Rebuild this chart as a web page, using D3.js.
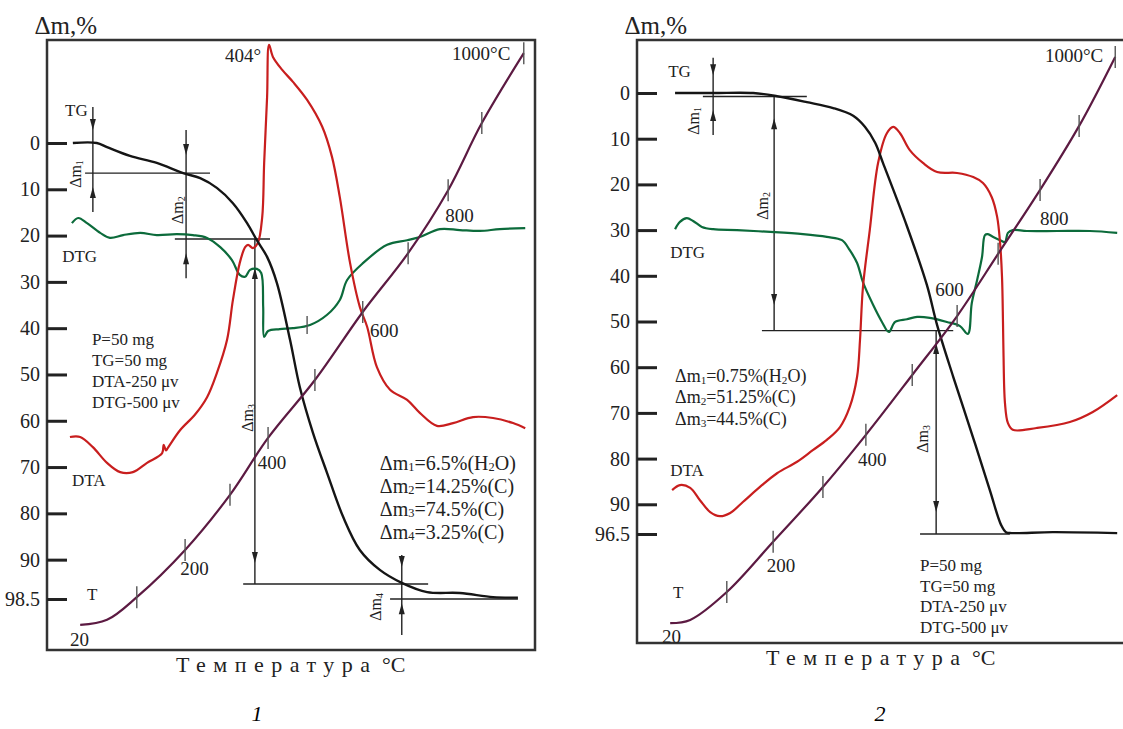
<!DOCTYPE html>
<html>
<head>
<meta charset="utf-8">
<script src="https://cdn.jsdelivr.net/npm/d3@7"></script>
<style>
  body { margin: 0; background: #fff; }
  svg { display: block; font-family: "Liberation Serif", "DejaVu Serif", serif; }
</style>
</head>
<body>
<svg id="chart" width="1123" height="729"></svg>
<script>
// ---------------- panel 1 data (x = time units 0..100, y = chart units of the Δm scale) ----------------
var p1MassTicks = [0, 10, 20, 30, 40, 50, 60, 70, 80, 90, 98.5];
var p1Losses = [6.5, 14.25, 74.5, 3.25];
var p1LossNotes = ["H_2O", "C", "C", "C"];
var p1PeakTemp = 404;
var p1TG = [[5.3, 0], [10.2, 0], [12.3, 0.9], [17.0, 2.8], [22.5, 4.3], [27.9, 6.5], [31.4, 7.6],
    [34.8, 9.7], [38.1, 13.0], [41.0, 17.3], [43.0, 21.0], [45.1, 24.6], [47.1, 30.2], [49.8, 42.5],
    [51.8, 52.7], [54.5, 62.6], [57.4, 71.3], [60.7, 80.8], [64.1, 87.9], [68.2, 92.2], [72.7, 95.0],
    [77.9, 97.0], [84.6, 97.2], [91.4, 98.1], [96.5, 98.2]];
var p1DTA = [[4.7, 63.5], [6.8, 63.5], [9.4, 65.7], [12.3, 69.1], [15.0, 71.1], [17.6, 71.1], [20.5, 69.1],
    [23.6, 67.0], [23.9, 65.2], [24.4, 66.4], [24.8, 65.8], [27.3, 62.0], [30.3, 58.7], [32.8, 54.9],
    [34.8, 49.7], [36.9, 42.5], [38.1, 33.9], [39.5, 25.9], [40.6, 22.5], [41.2, 22.0], [42.2, 22.7],
    [43.2, 21.6], [44.1, 16.0], [44.5, 4.3], [45.1, -9.9], [45.5, -21.2], [46.3, -18.6], [48.2, -15.8],
    [50.4, -13.2], [53.3, -9.3], [56.4, -3.5], [58.4, 3.0], [60.0, 11.7], [62.1, 25.9], [64.1, 35.4],
    [65.6, 39.7], [67.6, 48.4], [70.3, 53.3], [73.8, 55.5], [76.4, 58.3], [79.9, 61.1], [83.2, 60.5],
    [87.3, 59.2], [91.4, 59.4], [95.5, 60.5], [98.0, 61.6]];
var p1DTG = [[5.1, 17.3], [6.4, 16.2], [8.2, 17.3], [10.9, 19.4], [12.9, 20.5], [15.6, 19.9], [19.1, 19.4],
    [22.5, 19.9], [26.6, 19.7], [29.9, 19.9], [32.8, 20.5], [35.5, 22.5], [37.9, 25.3], [39.5, 28.5],
    [40.6, 28.9], [41.6, 27.4], [43.0, 27.2], [43.9, 28.1], [44.3, 35.4], [44.5, 41.9], [45.3, 40.6],
    [47.7, 40.2], [50.4, 40.0], [53.9, 39.3], [57.4, 37.1], [60.0, 33.9], [61.5, 29.6], [64.8, 25.9],
    [69.7, 22.0], [73.8, 21.0], [76.4, 20.3], [80.5, 18.6], [84.6, 18.8], [88.7, 19.0], [92.8, 18.6],
    [98.0, 18.4]];
var p1DtgMarks = [[53.3, 39.3]];
var p1TempT = [20, 50, 100, 200, 300, 400, 500, 600, 700, 800, 900, 1000];
var p1TempX = [6.8, 12.3, 18.4, 28.3, 37.5, 45.3, 54.9, 64.7, 74.0, 82.2, 89.1, 97.7];
var p1TempY = [104.1, 103.0, 98.1, 87.9, 76.0, 63.7, 51.2, 36.5, 23.8, 10.2, -4.3, -19.4];

// ---------------- panel 2 data ----------------
var p2MassTicks = [0, 10, 20, 30, 40, 50, 60, 70, 80, 90, 96.5];
var p2Losses = [0.75, 51.25, 44.5];
var p2LossNotes = ["H_2O", "C", "C"];
var p2TG = [[7.8, 0], [15.6, 0], [23.8, 0], [28.7, 0.7], [34.8, 2.0], [40.2, 3.3], [44.3, 5.0], [46.7, 7.4],
    [48.8, 10.9], [50.4, 15.3], [55.3, 29.1], [59.4, 42.0], [61.5, 50.8], [64.8, 62.1], [68.9, 75.5],
    [72.3, 86.9], [74.6, 94.5], [75.6, 96.1], [76.8, 96.3], [85.2, 96.1], [98.4, 96.3]];
var p2DTA = [[7.2, 86.9], [8.8, 85.8], [10.9, 86.4], [12.9, 89.1], [15.0, 91.7], [17.0, 92.6], [19.1, 91.9],
    [21.7, 89.5], [25.2, 86.2], [28.7, 83.2], [32.8, 80.7], [36.1, 78.1], [38.9, 75.9], [41.6, 73.1],
    [43.6, 68.7], [45.1, 62.1], [45.7, 54.0], [46.3, 42.5], [47.7, 30.0], [49.4, 15.3], [51.2, 8.8],
    [52.5, 7.4], [53.9, 8.8], [55.9, 12.5], [58.6, 15.3], [61.5, 17.3], [65.6, 17.5], [68.9, 18.4],
    [70.9, 19.7], [72.7, 22.8], [73.8, 27.1], [74.4, 32.8], [74.8, 40.3], [75.0, 50.3], [75.1, 56.9],
    [75.4, 67.8], [76.0, 72.2], [77.0, 73.7], [81.9, 73.3], [88.7, 72.0], [93.4, 69.8], [98.4, 66.1]];
var p2DTG = [[7.8, 29.8], [8.8, 28.2], [10.2, 27.4], [11.5, 28.0], [13.3, 29.3], [15.6, 29.8], [20.5, 30.0],
    [27.3, 30.4], [34.0, 30.9], [38.9, 31.5], [42.0, 32.2], [43.6, 34.4], [45.1, 37.2], [46.3, 41.4],
    [48.4, 46.4], [50.2, 50.1], [51.6, 52.3], [52.9, 50.1], [55.3, 49.5], [57.4, 49.0], [60.0, 49.2],
    [63.5, 50.1], [66.2, 51.0], [67.8, 52.7], [68.6, 46.0], [69.7, 40.9], [70.7, 35.9], [71.3, 31.1],
    [71.9, 30.9], [73.0, 31.5], [74.4, 32.2], [75.4, 32.6], [76.0, 30.6], [77.0, 30.0], [79.9, 30.2],
    [86.1, 30.2], [92.8, 30.2], [98.4, 30.6]];
var p2DtgMarks = [];
var p2TempT = [20, 50, 100, 200, 300, 400, 500, 600, 700, 800, 900, 1000];
var p2TempX = [6.8, 10.9, 18.4, 27.9, 38.1, 46.9, 56.4, 65.6, 74.0, 82.6, 90.6, 98.0];
var p2TempY = [116.0, 115.3, 109.2, 98.2, 86.2, 74.8, 61.7, 48.8, 35.2, 21.2, 7.2, -7.9];

var settings = ["P=50 mg", "TG=50 mg", "DTA-250 μv", "DTG-500 μv"];
var tempLabels = [20, 200, 400, 600, 800, 1000];

// ---------------- layout ----------------
var panels = [
  {
    left: 47, top: 40, width: 488, bottom: 650, y0: 143, yEnd: 599, number: "1", numberX: 257,
    massTicks: p1MassTicks, losses: p1Losses, notes: p1LossNotes,
    tg: p1TG, dta: p1DTA, dtg: p1DTG, dtgMarks: p1DtgMarks, tempT: p1TempT, tempX: p1TempX, tempY: p1TempY,
    levelSpan: [[7.8, 33.4], [26.2, 45.7], [40.2, 78.1], [70.3, 96.5]],
    dims: [
      { x: 9.4, top: -7.8, bottom: 14.9, down: -2.8, up: 9.5, lx: 5.7, ly: 6.7 },
      { x: 28.5, top: -2.8, bottom: 29.2, down: 2.6, up: 23.8, lx: 26.6, ly: 14.5 },
      { x: 42.6, top: 20.75, bottom: 95.25, down: 90.7, up: 27.0, lx: 41.0, ly: 59.4 },
      { x: 72.7, top: 89.0, bottom: 106.3, down: 91.6, up: 99.4, lx: 67.2, ly: 100.2 }
    ],
    curveLabels: { TG: [3.7, -7.1], DTG: [3.1, 24.6], DTA: [5.1, 72.8], T: [8.2, 97.6] },
    tempLabelPos: { 20: [4.7, 107.3], 200: [27.3, 92.0], 400: [43.2, 69.1], 600: [66.2, 40.4], 800: [81.6, 15.6], 1000: [83.0, -19.4] },
    peakPos: [36.5, -19.0],
    lossBlock: [68.2, 69.1], lossStep: 23, lossSize: 20,
    setBlock: [9.2, 42.5], setStep: 21
  },
  {
    left: 637, top: 40, width: 488, bottom: 643, y0: 93, yEnd: 534, number: "2", numberX: 880,
    massTicks: p2MassTicks, losses: p2Losses, notes: p2LossNotes,
    tg: p2TG, dta: p2DTA, dtg: p2DTG, dtgMarks: p2DtgMarks, tempT: p2TempT, tempX: p2TempX, tempY: p2TempY,
    levelSpan: [[13.5, 34.8], [25.6, 64.8], [58.0, 76.4]],
    dims: [
      { x: 15.6, top: -7.7, bottom: 9.2, down: -3.9, up: 3.7, lx: 11.5, ly: 6.1 },
      { x: 28.1, top: 0.75, bottom: 52, down: 46.4, up: 5.5, lx: 25.6, ly: 24.7 },
      { x: 61.3, top: 52, bottom: 96.5, down: 91.7, up: 54.7, lx: 58.4, ly: 75.7 }
    ],
    curveLabels: { TG: [6.4, -4.6], DTG: [6.8, 35.0], DTA: [6.8, 82.5], T: [7.4, 109.2] },
    tempLabelPos: { 20: [5.1, 119.0], 200: [26.6, 103.3], 400: [45.3, 80.3], 600: [61.1, 43.1], 800: [82.6, 27.4], 1000: [83.6, -8.1] },
    peakPos: null,
    lossBlock: [7.8, 61.9], lossStep: 21.5, lossSize: 18,
    setBlock: [58.0, 103.5], setStep: 20.5
  }
];

var colors = { tg: "#151515", dta: "#c81e1e", dtg: "#0c6b3b", temp: "#5c1a42", ink: "#222" };

var svg = d3.select("#chart");

// text with "_x" meaning subscript x
function rich(textSel, str, size) {
  var shift = 0;
  str.split(/(_.)/).forEach(function (p) {
    if (!p) return;
    if (p[0] === "_") {
      textSel.append("tspan").attr("font-size", size * 0.62).attr("dy", 4 - shift).text(p[1]);
      shift = 4;
    } else {
      textSel.append("tspan").attr("dy", -shift).text(p);
      shift = 0;
    }
  });
}

function arrowHead(g, px, py, dir) {
  // dir = 1 points down, -1 points up
  g.append("path")
    .attr("d", "M" + px + "," + py + "L" + (px - 3) + "," + (py - dir * 11) + "L" + (px + 3) + "," + (py - dir * 11) + "Z")
    .attr("fill", colors.ink);
}

panels.forEach(function (p) {
  var x = d3.scaleLinear().domain([0, 100]).range([p.left, p.left + p.width]);
  var y = d3.scaleLinear().domain([0, p.massTicks[p.massTicks.length - 1]]).range([p.y0, p.yEnd]);
  var g = svg.append("g");

  // title
  g.append("text").attr("x", p.left + 50).attr("y", 34)
    .attr("text-anchor", "end")
    .style("font-size", "25px").attr("fill", "#222").text("Δm,%");

  // frame
  g.append("rect")
    .attr("x", p.left).attr("y", p.top)
    .attr("width", p.width).attr("height", p.bottom - p.top)
    .attr("fill", "none").attr("stroke", "#333").attr("stroke-width", 2.5);

  // Δm axis, ticks inward
  var ax = g.append("g")
    .attr("transform", "translate(" + p.left + ",0)")
    .call(d3.axisLeft(y).tickValues(p.massTicks).tickSize(-20).tickPadding(7).tickFormat(function (d) { return d; }));
  ax.select(".domain").remove();
  ax.selectAll(".tick line").attr("stroke", colors.ink).attr("stroke-width", 3);
  ax.selectAll(".tick text")
    .attr("fill", "#222")
    .style("font-family", "Liberation Serif, serif")
    .style("font-size", "20px");

  var line = d3.line()
    .x(function (d) { return x(d[0]); })
    .y(function (d) { return y(d[1]); })
    .curve(d3.curveCatmullRom.alpha(0.5));

  // level lines of mass loss
  var levels = [];
  var acc = 0;
  p.losses.forEach(function (v) { acc += v; levels.push(acc); });
  levels.forEach(function (lv, i) {
    g.append("line")
      .attr("x1", x(p.levelSpan[i][0])).attr("x2", x(p.levelSpan[i][1]))
      .attr("y1", y(lv)).attr("y2", y(lv))
      .attr("stroke", colors.ink).attr("stroke-width", 1.4);
  });

  // dimension lines with arrows
  p.dims.forEach(function (d, i) {
    g.append("line")
      .attr("x1", x(d.x)).attr("x2", x(d.x))
      .attr("y1", y(d.top)).attr("y2", y(d.bottom))
      .attr("stroke", colors.ink).attr("stroke-width", 1.4);
    arrowHead(g, x(d.x), y(d.down), 1);
    arrowHead(g, x(d.x), y(d.up), -1);
    var t = g.append("text")
      .attr("transform", "translate(" + x(d.lx) + "," + y(d.ly) + ") rotate(-90)")
      .attr("text-anchor", "middle")
      .attr("dominant-baseline", "central")
      .attr("fill", "#222")
      .style("font-size", "16px");
    rich(t, "Δm_" + (i + 1), 16);
  });

  // curves
  g.append("path").datum(p.dtg).attr("d", line)
    .attr("fill", "none").attr("stroke", colors.dtg).attr("stroke-width", 2.2);
  g.append("path").datum(p.dta).attr("d", line)
    .attr("fill", "none").attr("stroke", colors.dta).attr("stroke-width", 2.2);
  g.append("path").datum(p.tg).attr("d", line)
    .attr("fill", "none").attr("stroke", colors.tg).attr("stroke-width", 2.4);

  var temp = p.tempT.map(function (t, i) { return [p.tempX[i], p.tempY[i], t]; });
  g.append("path").datum(temp).attr("d", line)
    .attr("fill", "none").attr("stroke", colors.temp).attr("stroke-width", 2.2);

  // 100 °C marks on the T curve
  g.selectAll(".tmark")
    .data(temp.filter(function (d) { return d[2] % 100 === 0; }))
    .enter().append("line")
    .attr("x1", function (d) { return x(d[0]); })
    .attr("x2", function (d) { return x(d[0]); })
    .attr("y1", function (d) { return y(d[1]) - 11; })
    .attr("y2", function (d) { return y(d[1]) + 11; })
    .attr("stroke", "#555").attr("stroke-width", 1.4);

  g.selectAll(".dmark")
    .data(p.dtgMarks)
    .enter().append("line")
    .attr("x1", function (d) { return x(d[0]); })
    .attr("x2", function (d) { return x(d[0]); })
    .attr("y1", function (d) { return y(d[1]) - 9; })
    .attr("y2", function (d) { return y(d[1]) + 9; })
    .attr("stroke", "#555").attr("stroke-width", 1.4);

  // temperature labels
  tempLabels.forEach(function (t) {
    var pos = p.tempLabelPos[t];
    g.append("text")
      .attr("x", x(pos[0])).attr("y", y(pos[1]))
      .attr("dominant-baseline", "central")
      .style("font-size", "19px")
      .attr("fill", "#222")
      .text(t === 1000 ? t + "°C" : t);
  });
  if (p.peakPos) {
    g.append("text")
      .attr("x", x(p.peakPos[0])).attr("y", y(p.peakPos[1]))
      .attr("dominant-baseline", "central")
      .style("font-size", "19px")
      .attr("fill", "#222")
      .text(p1PeakTemp + "°");
  }

  // curve names
  Object.keys(p.curveLabels).forEach(function (k) {
    var pos = p.curveLabels[k];
    g.append("text")
      .attr("x", x(pos[0])).attr("y", y(pos[1]))
      .attr("dominant-baseline", "central")
      .style("font-size", "17px")
      .attr("fill", "#222")
      .text(k);
  });

  // mass loss summary
  p.losses.forEach(function (v, i) {
    var t = g.append("text")
      .attr("x", x(p.lossBlock[0]))
      .attr("y", y(p.lossBlock[1]) + i * p.lossStep)
      .attr("dominant-baseline", "central")
      .style("font-size", p.lossSize + "px")
      .attr("fill", "#222");
    rich(t, "Δm_" + (i + 1) + "=" + v + "%(" + p.notes[i] + ")", p.lossSize);
  });

  // instrument settings
  settings.forEach(function (s, i) {
    g.append("text")
      .attr("x", x(p.setBlock[0]))
      .attr("y", y(p.setBlock[1]) + i * p.setStep)
      .attr("dominant-baseline", "central")
      .style("font-size", "17px")
      .attr("fill", "#222")
      .text(s);
  });

  // x title (spaced letters) and panel number
  var cx = p.left + p.width / 2;
  g.append("text")
    .attr("x", cx - 115).attr("y", p.bottom + 22)
    .attr("textLength", 194).attr("lengthAdjust", "spacing")
    .style("font-size", "22px").attr("fill", "#222")
    .text("Температура");
  g.append("text")
    .attr("x", cx + 91).attr("y", p.bottom + 22)
    .style("font-size", "22px").attr("fill", "#222")
    .text("°C");
  g.append("text")
    .attr("x", p.numberX).attr("y", 721)
    .attr("text-anchor", "middle")
    .style("font-size", "22px").style("font-style", "italic")
    .text(p.number);
});
</script>
</body>
</html>
